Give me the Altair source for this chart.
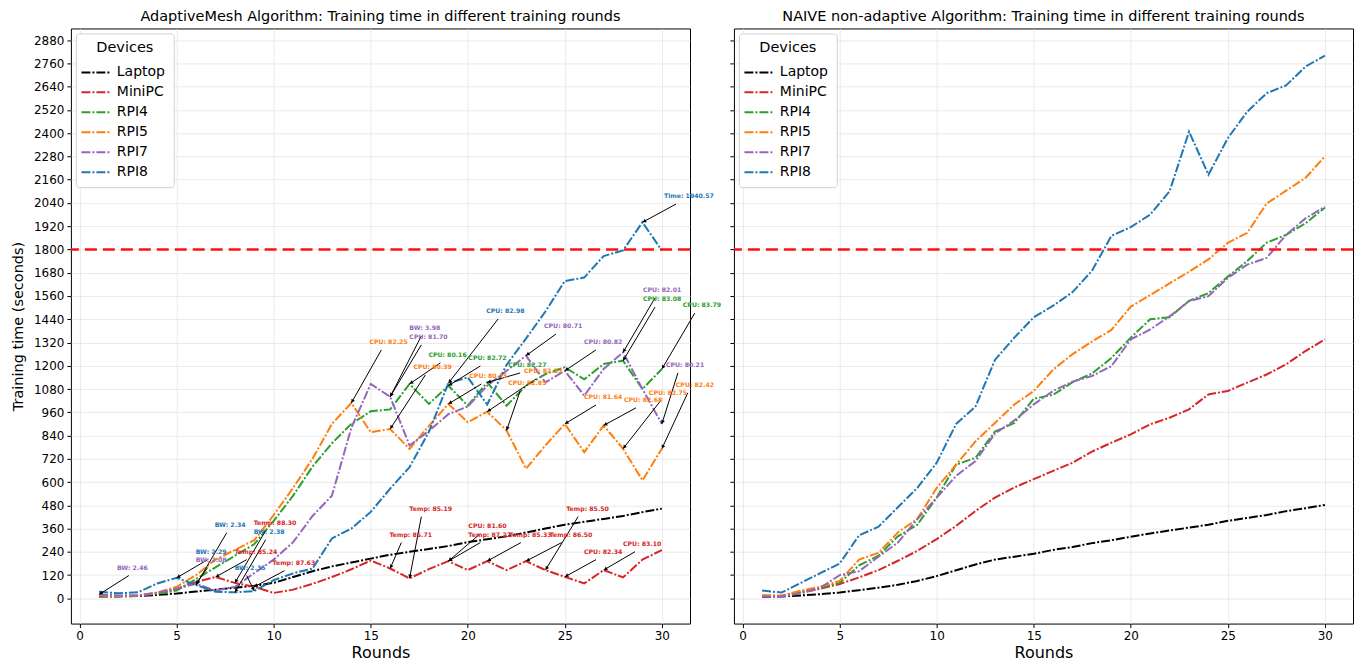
import math
import altair as alt
import pandas as pd

# ---------------- data ----------------
rounds = list(range(1, 31))
devices = ["Laptop", "MiniPC", "RPI4", "RPI5", "RPI7", "RPI8"]
device_colors = ["#000000", "#d62728", "#2ca02c", "#ff7f0e", "#9467bd", "#1f77b4"]

# AdaptiveMesh algorithm (left panel)
am_laptop = [10, 10, 12, 18, 25, 35, 45, 55, 65, 80, 110, 140, 165, 185, 205, 225, 240, 255, 270, 290,
             305, 320, 340, 360, 380, 395, 410, 425, 445, 463]
am_minipc = [17, 12, 12, 25, 50, 85, 110, 80, 60, 28, 45, 75, 110, 150, 195, 154, 103, 151, 192, 146,
             192, 146, 192, 146, 111, 77, 146, 108, 200, 249]
am_rpi4 = [15, 12, 15, 25, 40, 100, 160, 220, 280, 400, 530, 680, 800, 900, 965, 975, 1106, 1003, 1097, 994,
           1114, 994, 1097, 1157, 1192, 1130, 1209, 1226, 1080, 1183]
am_rpi5 = [15, 12, 15, 30, 60, 120, 200, 250, 300, 430, 570, 720, 900, 1008, 857, 874, 771, 890, 1003, 909,
           963, 866, 669, 789, 900, 754, 892, 772, 609, 772]
am_rpi7 = [20, 15, 15, 30, 50, 75, 40, 60, 130, 200, 290, 425, 530, 880, 1106, 1040, 789, 864, 950, 990,
           1097, 1174, 1252, 1114, 1174, 1046, 1183, 1269, 1080, 900]
am_rpi8 = [34, 26, 31, 77, 106, 69, 34, 31, 38, 94, 129, 154, 309, 360, 446, 566, 677, 860, 1110, 1140,
           1000, 1205, 1340, 1480, 1637, 1655, 1766, 1795, 1940, 1795]

# NAIVE non-adaptive algorithm (right panel)
nv_laptop = [8, 10, 15, 22, 30, 42, 55, 70, 90, 115, 145, 175, 200, 215, 230, 250, 265, 285, 300, 318,
             335, 350, 365, 380, 400, 415, 430, 450, 465, 482]
nv_minipc = [10, 12, 30, 50, 74, 108, 146, 194, 245, 306, 374, 451, 520, 572, 615, 658, 700, 757, 803, 846,
             898, 932, 975, 1052, 1070, 1113, 1155, 1207, 1276, 1336]
nv_rpi4 = [15, 12, 35, 55, 80, 170, 220, 320, 380, 520, 690, 725, 860, 905, 1030, 1050, 1115, 1160, 1240, 1345,
           1440, 1450, 1535, 1575, 1660, 1740, 1835, 1875, 1935, 2015]
nv_rpi5 = [15, 15, 40, 60, 90, 200, 235, 340, 410, 570, 690, 810, 905, 1000, 1070, 1180, 1260, 1325, 1385, 1505,
           1565, 1625, 1685, 1749, 1834, 1886, 2037, 2103, 2169, 2280]
nv_rpi7 = [10, 10, 25, 55, 120, 140, 215, 288, 409, 520, 632, 709, 850, 918, 1001, 1070, 1118, 1147, 1198, 1336,
           1387, 1455, 1533, 1559, 1653, 1722, 1756, 1875, 1960, 2020]
nv_rpi8 = [40, 30, 80, 130, 180, 325, 370, 470, 570, 700, 900, 990, 1230, 1345, 1450, 1510, 1580, 1690, 1870, 1915,
           1980, 2100, 2408, 2186, 2374, 2511, 2606, 2646, 2743, 2800]

threshold = [1800]
x_ticks = [0, 5, 10, 15, 20, 25, 30]
y_ticks = list(range(0, 2881, 120))

# annotations on the AdaptiveMesh panel: label, device, target round, text position (round, seconds)
ann_label = ["BW: 2.46", "BW: 2.29", "BW: 2.08", "BW: 2.34", "Temp: 88.30", "Temp: 85.24", "BW: 2.38",
             "BW: 2.35", "Temp: 87.63", "Temp: 85.71", "Temp: 85.19", "CPU: 81.60", "Temp: 87.22",
             "Temp: 85.33", "Temp: 86.50", "Temp: 85.50", "CPU: 82.34", "CPU: 83.10", "CPU: 82.25",
             "BW: 3.98", "CPU: 81.70", "CPU: 80.39", "CPU: 80.16", "CPU: 82.98", "CPU: 82.72",
             "CPU: 80.15", "CPU: 82.27", "CPU: 82.53", "CPU: 82.85", "CPU: 80.71", "CPU: 80.82",
             "CPU: 81.64", "CPU: 82.68", "CPU: 82.01", "CPU: 83.08", "CPU: 83.79", "CPU: 80.21",
             "CPU: 82.75", "CPU: 82.42", "Time: 1940.57"]
ann_device = ["RPI7", "RPI8", "RPI7", "RPI8", "MiniPC", "MiniPC", "RPI8", "RPI8", "MiniPC", "MiniPC",
              "MiniPC", "MiniPC", "MiniPC", "MiniPC", "MiniPC", "MiniPC", "MiniPC", "MiniPC", "RPI5",
              "RPI7", "RPI7", "RPI5", "RPI4", "RPI8", "RPI4", "RPI5", "RPI4", "RPI5", "RPI5", "RPI7",
              "RPI7", "RPI5", "RPI5", "RPI7", "RPI4", "RPI4", "RPI7", "RPI5", "RPI5", "RPI8"]
ann_round = [1, 5, 6, 6, 8, 7, 8, 9, 9, 16, 17, 19, 19, 21, 23, 24, 25, 27, 14, 16, 16, 16, 17, 19, 19,
             19, 21, 21, 22, 23, 25, 25, 27, 28, 28, 30, 30, 28, 30, 29]
ann_tx = [1.92, 5.98, 5.98, 6.96, 8.97, 7.99, 8.97, 7.99, 9.94, 15.96, 16.99, 20.03, 20.03, 22.12, 24.22,
          25.07, 25.99, 28.0, 14.93, 16.99, 16.99, 17.2, 17.97, 20.95, 20.03, 20.08, 22.08, 22.9, 22.08,
          23.93, 25.99, 25.99, 28.05, 29.03, 29.03, 31.08, 30.21, 29.33, 30.72, 30.11]
ann_ty = [159, 241, 200, 380, 391, 241, 344, 159, 184, 329, 463, 375, 329, 329, 329, 463, 241, 282, 1323,
          1395, 1349, 1194, 1256, 1483, 1240, 1147, 1204, 1173, 1111, 1405, 1323, 1039, 1024, 1591, 1544,
          1513, 1204, 1062, 1102, 2075]

# ---------------- layout ----------------
W, H = 620, 596
X_DOM = [-0.45, 31.45]
Y_DOM = [-130, 2940]
PPR = W / (X_DOM[1] - X_DOM[0])   # pixels per round
PPS = H / (Y_DOM[1] - Y_DOM[0])   # pixels per second
FONT = "DejaVu Sans"
LINE_DASH = [9, 2, 2, 2]

x_scale = alt.Scale(domain=X_DOM, nice=False, zero=False)
y_scale = alt.Scale(domain=Y_DOM, nice=False, zero=False)
color_scale = alt.Scale(domain=devices, range=device_colors)
color_of = dict(zip(devices, device_colors))

am_series = [am_laptop, am_minipc, am_rpi4, am_rpi5, am_rpi7, am_rpi8]
nv_series = [nv_laptop, nv_minipc, nv_rpi4, nv_rpi5, nv_rpi7, nv_rpi8]


def long_df(series):
    rows = []
    for dev, vals in zip(devices, series):
        for r, v in zip(rounds, vals):
            rows.append({"Round": r, "Time": v, "Device": dev})
    return pd.DataFrame(rows)


def legend():
    return alt.Legend(
        title="Devices", orient="top-left", offset=5, fillColor="white", strokeColor="#d0d0d0",
        cornerRadius=3, padding=8, titleFontSize=14.5, titleFontWeight="normal", titleAnchor="middle",
        titleFont=FONT, titleColor="black", titlePadding=4, labelFont=FONT, labelFontSize=14,
        labelColor="black", symbolType="M-1.3,0H1.3", symbolSize=529, symbolStrokeWidth=2,
        symbolDash=LINE_DASH, rowPadding=0, labelOffset=8,
    )


def panel(series, title, first):
    df = long_df(series)
    x_axis = alt.Axis(values=x_ticks, title="Rounds", titleFontSize=16, titlePadding=3, format="d")
    y_axis = alt.Axis(values=y_ticks, labels=first, title="Training time (seconds)" if first else None,
                      titleFontSize=14.5, titlePadding=8, format="d")

    def X(field):
        return alt.X(field, scale=x_scale, axis=x_axis, title="Rounds")

    def Y(field):
        return alt.Y(field, scale=y_scale, axis=y_axis,
                     title="Training time (seconds)" if first else None)

    lines = alt.Chart(df).mark_line(strokeWidth=2, strokeDash=LINE_DASH).encode(
        x=X("Round:Q"), y=Y("Time:Q"),
        color=alt.Color("Device:N", scale=color_scale, sort=devices, legend=legend()),
    )
    rule = alt.Chart(pd.DataFrame({"Time": threshold})).mark_rule(
        color="#ff1010", strokeDash=[12, 6], strokeWidth=2.5
    ).encode(y=Y("Time:Q"))
    layers = [lines, rule]
    if first:
        lookup = {d: s for d, s in zip(devices, series)}
        recs = []
        for lab, dev, r, tx, ty in zip(ann_label, ann_device, ann_round, ann_tx, ann_ty):
            py = lookup[dev][r - 1]
            ax = tx + 12 / PPR
            ay = ty - 8 / PPS
            dxp = (r - ax) * PPR
            dyp = -(py - ay) * PPS
            ln = math.hypot(dxp, dyp) or 1.0
            ang = math.degrees(math.atan2(dxp, -dyp)) % 360
            hx = r - (dxp / ln) * 2.0 / PPR
            hy = py + (dyp / ln) * 2.0 / PPS
            recs.append({"label": lab, "hex": color_of[dev], "tx": tx, "ty": ty, "ax": ax, "ay": ay,
                         "px": r, "py": py, "hx": hx, "hy": hy, "ang": ang})
        adf = pd.DataFrame(recs)
        arrows = alt.Chart(adf).mark_rule(color="black", strokeWidth=1).encode(
            x=X("ax:Q"), y=Y("ay:Q"), x2="px:Q", y2="py:Q")
        heads = alt.Chart(adf).mark_point(shape="triangle-up", filled=True, size=16, color="black",
                                          opacity=1).encode(
            x=X("hx:Q"), y=Y("hy:Q"), angle=alt.Angle("ang:Q", scale=None))
        texts = alt.Chart(adf).mark_text(align="left", baseline="middle", fontSize=6.2, font=FONT,
                                         fontWeight="bold").encode(
            x=X("tx:Q"), y=Y("ty:Q"), text="label:N", color=alt.Color("hex:N", scale=None))
        layers += [arrows, heads, texts]
    return alt.layer(*layers).properties(width=W, height=H, title=title)


left = panel(am_series, "AdaptiveMesh Algorithm: Training time in different training rounds", True)
right = panel(nv_series, "NAIVE non-adaptive Algorithm: Training time in different training rounds", False)

chart = alt.hconcat(left, right, spacing=44, bounds="flush").resolve_legend(
    color="independent"
).properties(
    padding={"left": 1, "top": 0, "right": 2, "bottom": 0}
).configure_view(
    stroke="black", strokeWidth=1
).configure_axis(
    grid=True, gridColor="#e4e4e4", gridWidth=0.8, domain=False, tickColor="black", tickSize=4,
    labelFontSize=12, labelColor="black", labelFont=FONT, titleFont=FONT, titleFontWeight="normal",
    titleColor="black", labelPadding=3
).configure_title(
    font=FONT, fontSize=14.5, fontWeight="normal", color="black", anchor="middle", offset=4
)

chart.save("out.html", embed_options={"renderer": "svg", "actions": False})
